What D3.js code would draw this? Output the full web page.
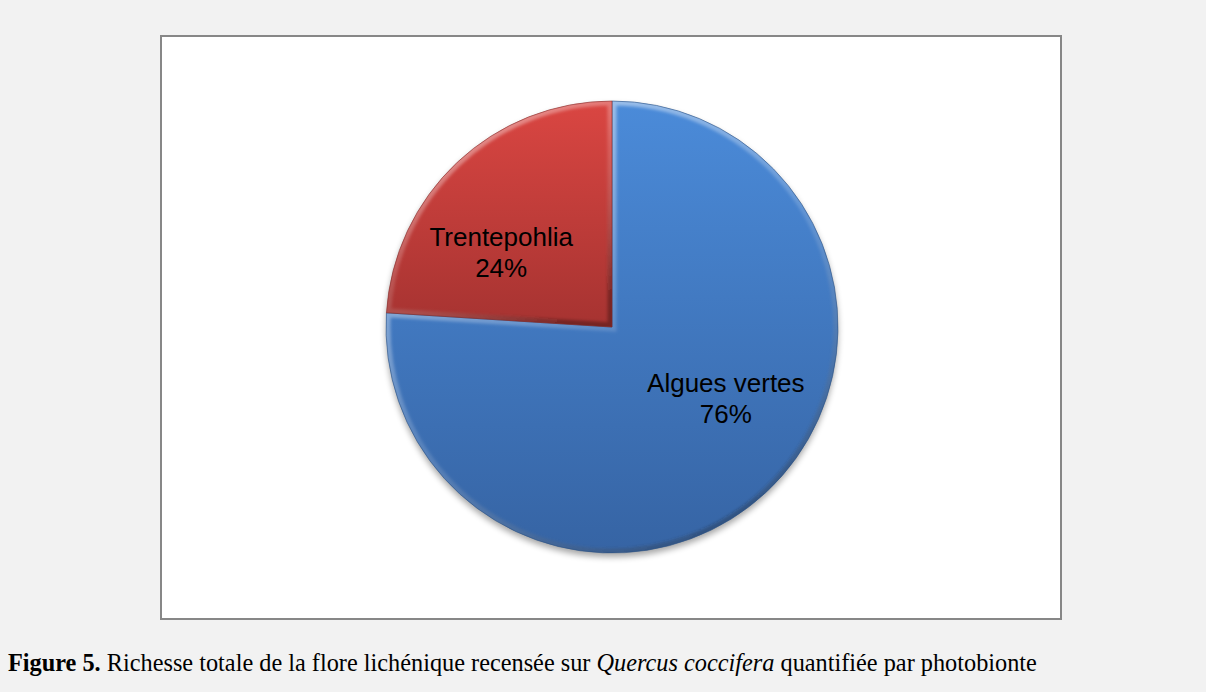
<!DOCTYPE html>
<html>
<head>
<meta charset="utf-8">
<script src="https://cdn.jsdelivr.net/npm/d3@7"></script>
<style>
  html, body { margin: 0; padding: 0; background: #f2f2f2; }
  svg { display: block; }
</style>
</head>
<body>
<svg id="chart" width="1206" height="692"></svg>
<script>
// donnees
var categories = ["Algues vertes", "Trentepohlia"];
var valeurs = [76, 24];
var etiquettes = ["76%", "24%"];

var couleursHaut = ["#4b8bd9", "#da4642"];
var couleursBas = ["#3664a4", "#a63331"];

var width = 1206, height = 692;
var svg = d3.select("#chart");

// cadre du graphique
var cadre = {x: 161, y: 36, w: 900, h: 583};

svg.append("rect")
  .attr("x", cadre.x)
  .attr("y", cadre.y)
  .attr("width", cadre.w)
  .attr("height", cadre.h)
  .style("fill", "#ffffff")
  .style("stroke", "#878787")
  .style("stroke-width", 2);

var cx = 612, cy = 327, rayon = 226;

var defs = svg.append("defs");

var ombre = defs.append("filter").attr("id", "ombre")
  .attr("x", "-20%").attr("y", "-20%").attr("width", "140%").attr("height", "140%");
ombre.append("feGaussianBlur").attr("in", "SourceAlpha").attr("stdDeviation", 3);
ombre.append("feOffset").attr("dx", 0).attr("dy", 4).attr("result", "decale");
ombre.append("feComponentTransfer").append("feFuncA").attr("type", "linear").attr("slope", 0.35);

var flou = defs.append("filter").attr("id", "flou")
  .attr("x", "-10%").attr("y", "-10%").attr("width", "120%").attr("height", "120%");
flou.append("feGaussianBlur").attr("stdDeviation", 1.6);

categories.forEach(function(c, i){
  var g = defs.append("linearGradient").attr("id", "grad" + i)
    .attr("x1", 0).attr("y1", 0).attr("x2", 0).attr("y2", 1);
  g.append("stop").attr("offset", "0%").attr("stop-color", couleursHaut[i]);
  g.append("stop").attr("offset", "100%").attr("stop-color", couleursBas[i]);
});

var biseau = defs.append("linearGradient").attr("id", "biseau")
  .attr("x1", 0.2).attr("y1", 0).attr("x2", 0.8).attr("y2", 1);
biseau.append("stop").attr("offset", "0%").attr("stop-color", "#ffffff").attr("stop-opacity", 0.55);
biseau.append("stop").attr("offset", "50%").attr("stop-color", "#ffffff").attr("stop-opacity", 0.15);
biseau.append("stop").attr("offset", "100%").attr("stop-color", "#000000").attr("stop-opacity", 0.3);

var donnees = categories.map(function(c, i){
  return {nom: c, valeur: valeurs[i], etiquette: etiquettes[i], index: i};
});

var pie = d3.pie().sort(null).value(function(d){ return d.valeur; })
  .startAngle(0).endAngle(2 * Math.PI);
var arcs = pie(donnees);

var arc = d3.arc().innerRadius(0).outerRadius(rayon);
var arcEtiquette = d3.arc().innerRadius(rayon * 0.6).outerRadius(rayon * 0.6);

var gPie = svg.append("g").attr("transform", "translate(" + cx + "," + cy + ")");

// ombre portee
gPie.append("circle")
  .attr("r", rayon)
  .style("fill", "#000")
  .attr("filter", "url(#ombre)");

arcs.forEach(function(a, i){
  defs.append("clipPath").attr("id", "clip" + i)
    .append("path").attr("d", arc(a));
});

var parts = gPie.selectAll(".part").data(arcs).enter().append("g").attr("class", "part");

parts.append("path")
  .attr("d", arc)
  .style("fill", function(d){ return "url(#grad" + d.data.index + ")"; });

parts.append("path")
  .attr("d", arc)
  .attr("clip-path", function(d){ return "url(#clip" + d.data.index + ")"; })
  .style("fill", "none")
  .style("stroke", "url(#biseau)")
  .style("stroke-width", 9)
  .attr("filter", "url(#flou)");

parts.append("path")
  .attr("d", arc)
  .style("fill", "none")
  .style("stroke", function(d){ return d3.color(couleursBas[d.data.index]).darker(0.6); })
  .style("stroke-opacity", 0.6)
  .style("stroke-width", 1);

// decalage des etiquettes (placement "au mieux" d'Excel)
var decalages = [[21, -18.5], [-18, 33.5]];

var etiq = gPie.selectAll(".etiq").data(arcs).enter().append("text")
  .attr("class", "etiq")
  .attr("transform", function(d){
    var c = arcEtiquette.centroid(d);
    var o = decalages[d.data.index];
    return "translate(" + (c[0] + o[0]) + "," + (c[1] + o[1]) + ")";
  })
  .attr("text-anchor", "middle")
  .style("font-family", "'Liberation Sans', Arial, sans-serif")
  .style("font-size", "26px")
  .style("fill", "#000");

etiq.append("tspan").attr("x", 0).attr("y", -15.5).text(function(d){ return d.data.nom; });
etiq.append("tspan").attr("x", 0).attr("y", 15.5).text(function(d){ return d.data.etiquette; });

// legende de la figure
var legende = svg.append("text")
  .attr("x", 8)
  .attr("y", 671)
  .style("font-family", "'Liberation Serif', 'Times New Roman', serif")
  .style("font-size", "24.3px")
  .style("fill", "#000");
legende.append("tspan").style("font-weight", "bold").text("Figure 5.");
legende.append("tspan").text(" Richesse totale de la flore lichénique recensée sur ");
legende.append("tspan").style("font-style", "italic").text("Quercus coccifera");
legende.append("tspan").text(" quantifiée par photobionte");
</script>
</body>
</html>
